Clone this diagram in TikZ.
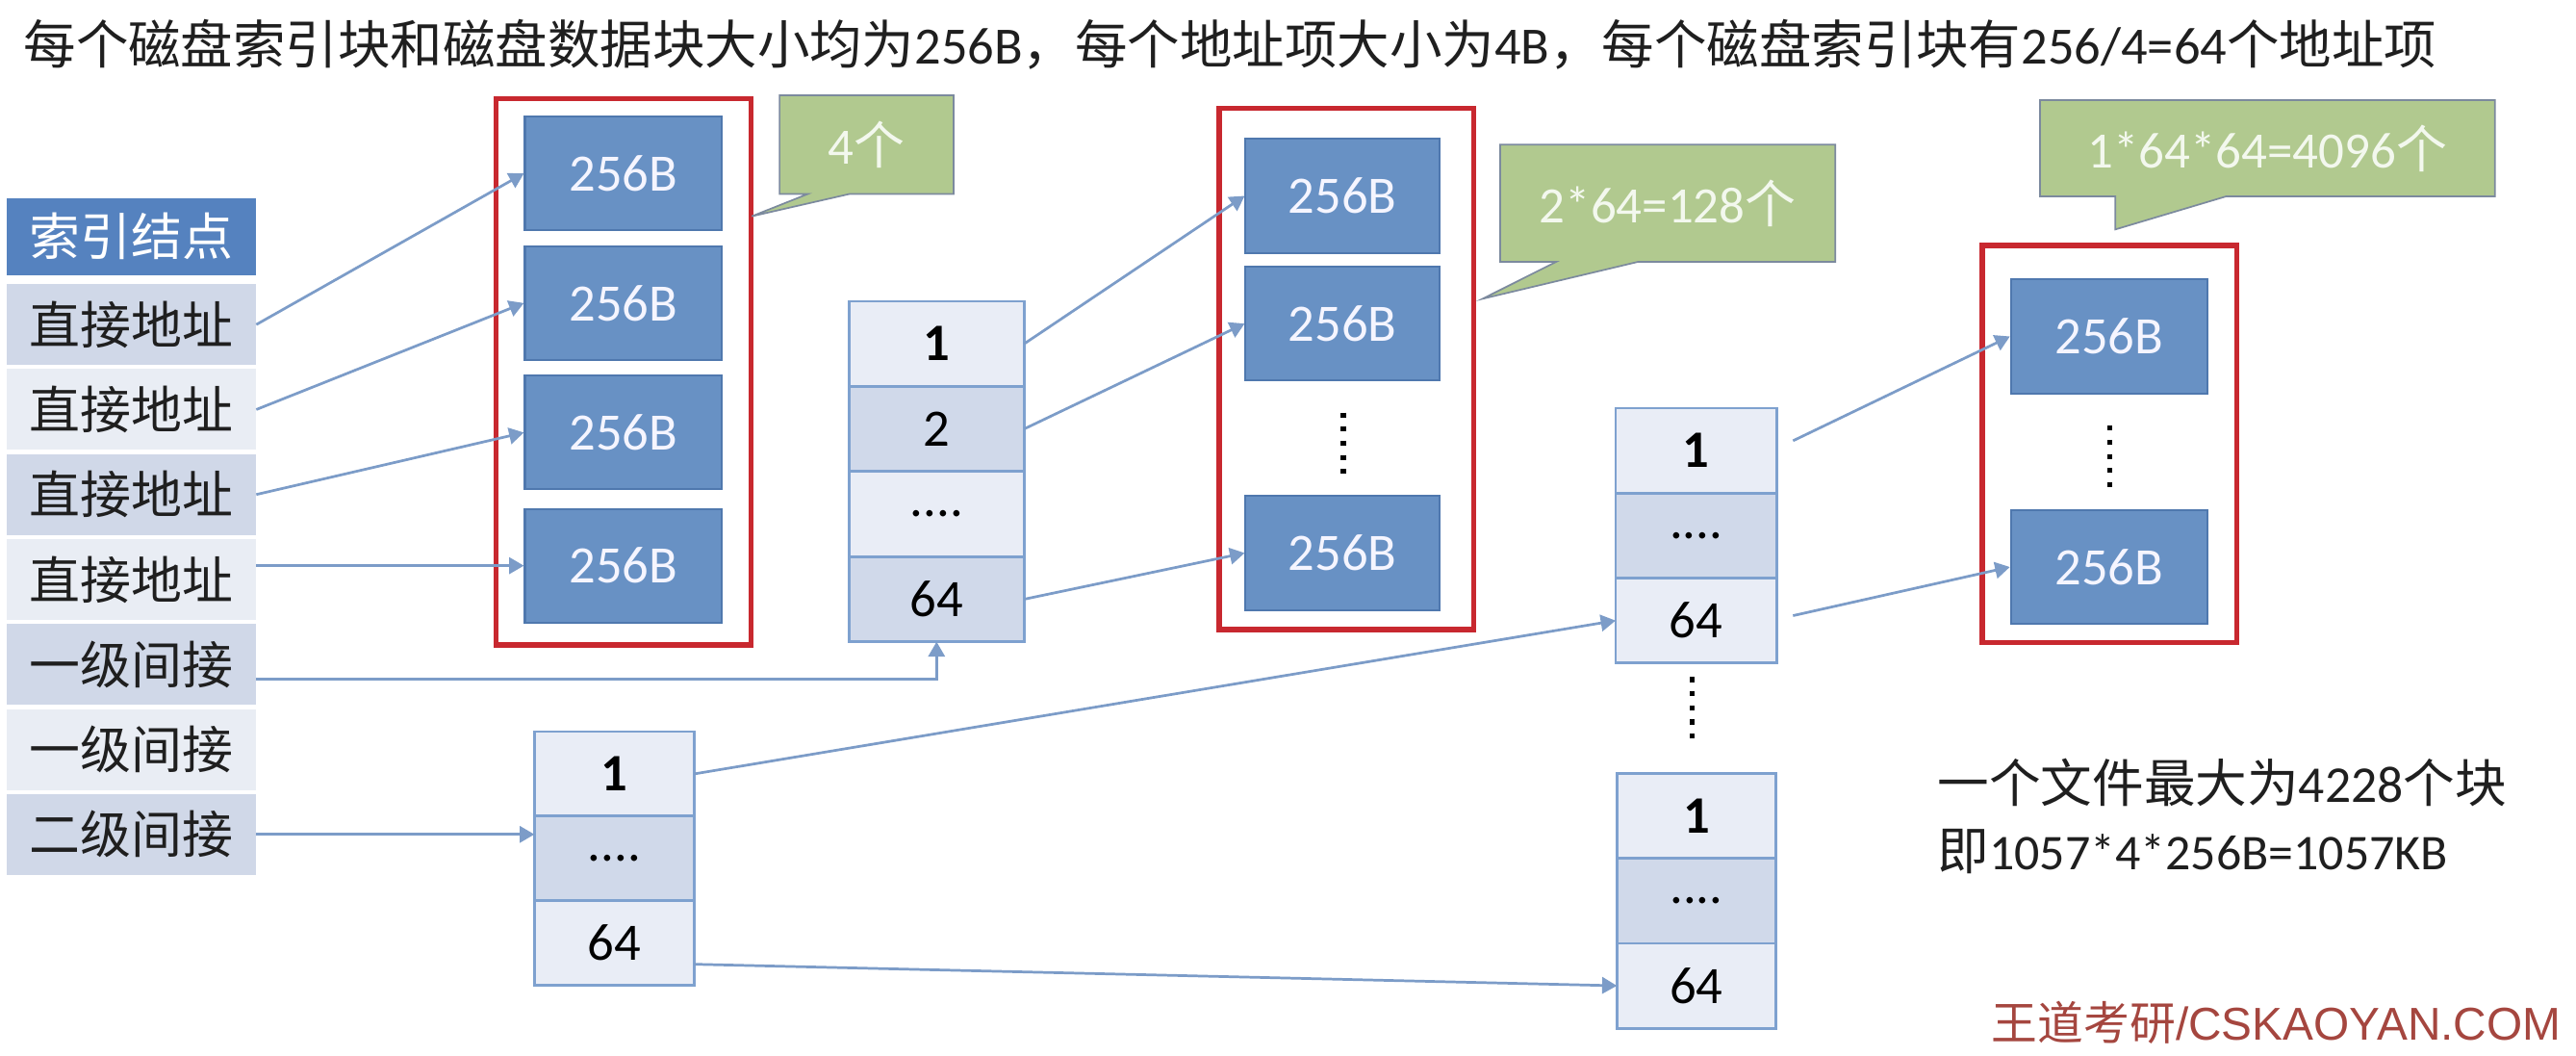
\documentclass[tikz,border=0pt]{standalone}
\usepackage{fontspec}
\setmainfont{Carlito}
\newfontfamily\cjk{Noto Sans CJK SC}
\newfontfamily\arialf{Liberation Sans}
\usetikzlibrary{arrows.meta,calc}
\definecolor{hdr}{HTML}{5582BF}
\definecolor{rowdark}{HTML}{D0D8E8}
\definecolor{rowlight}{HTML}{E9EDF4}
\definecolor{blkfill}{HTML}{6891C4}
\definecolor{blkedge}{HTML}{4F78AE}
\definecolor{redc}{HTML}{C8282F}
\definecolor{celledge}{HTML}{7EA1CF}
\definecolor{celllight}{HTML}{E9EDF6}
\definecolor{celldark}{HTML}{D0D9EA}
\definecolor{connc}{HTML}{7C9CC8}
\definecolor{callfill}{HTML}{B1C98F}
\definecolor{calledge}{HTML}{7C8A9E}
\definecolor{calltext}{HTML}{F3F8EE}
\definecolor{wmc}{HTML}{A5463F}
\begin{document}
\begin{tikzpicture}[x=0.5pt,y=-0.5pt,
  tcell/.style={minimum width=76pt, minimum height=24.6pt, inner sep=0pt, outer sep=0pt,
    font=\cjk\fontsize{15.5}{18}\selectfont, text=black!88},
  tdark/.style={tcell, fill=rowdark},
  tlight/.style={tcell, fill=rowlight},
  thdr/.style={tcell, fill=hdr, text=white, minimum height=23.5pt},
  blk/.style={draw=blkedge, fill=blkfill, line width=0.6pt, inner sep=0pt,
    text=white!96!blue, font=\fontsize{16}{18}\selectfont},
  redbox/.style={draw=redc, line width=1.6pt, inner sep=0pt},
  icell/.style={draw=celledge, line width=0.8pt, inner sep=0pt, outer sep=0pt,
    font=\fontsize{16}{18}\selectfont, text=black},
  ilight/.style={icell, fill=celllight},
  idark/.style={icell, fill=celldark},
  conn/.style={draw=connc, line width=0.8pt, -{Triangle[length=4.5pt,width=5pt]}},
  callout/.style={fill=callfill, draw=calledge, line width=0.5pt},
  calltxt/.style={inner sep=0pt, text=calltext, font=\fontsize{15.5}{18}\selectfont},
  vdots/.style={line width=1.5pt, dash pattern=on 1.5pt off 2.8pt, black}
]
\useasboundingbox[fill=white] (0,0) rectangle (1568,642);

% title
\node[anchor=west, inner sep=0pt, text=black!88, font=\fontsize{15.95}{18}\selectfont] (title) at (14,27)
 {{\cjk 每个磁盘索引块和磁盘数据块大小均为}256B{\cjk ，每个地址项大小为}4B{\cjk ，每个磁盘索引块有}256/4=64{\cjk 个地址项}};

% index node table
\node[thdr] (t0) at (80,144) {索引结点};
\node[tdark]  (t1) at (80,197.5) {直接地址};
\node[tlight] (t2) at (80,249.2) {直接地址};
\node[tdark]  (t3) at (80,300.9) {直接地址};
\node[tlight] (t4) at (80,352.6) {直接地址};
\node[tdark]  (t5) at (80,404.3) {一级间接};
\node[tlight] (t6) at (80,456.0) {一级间接};
\node[tdark]  (t7) at (80,507.7) {二级间接};

% red boxes
\node[redbox, minimum width=77.7pt, minimum height=166.2pt] (R1) at (379.5,226.2) {};
\node[redbox, minimum width=77.5pt, minimum height=158.5pt] (R2) at (819.5,224.5) {};
\node[redbox, minimum width=77.4pt, minimum height=120.8pt] (R3) at (1284.1,270.2) {};

% data blocks
\begin{scope}[every node/.append style={blk, minimum width=60pt, minimum height=34.5pt}]
\node (a1) at (379.5,105.5) {256B};
\node (a2) at (379.5,184.4) {256B};
\node (a3) at (379.5,263.2) {256B};
\node (a4) at (379.5,344.2) {256B};
\end{scope}
\begin{scope}[every node/.append style={blk, minimum width=59pt, minimum height=34.7pt}]
\node (a5) at (817.2,119.2) {256B};
\node (a6) at (817.2,196.9) {256B};
\node (a7) at (817.2,336.5) {256B};
\end{scope}
\begin{scope}[every node/.append style={blk, minimum width=59.8pt, minimum height=34.8pt}]
\node (a8) at (1283.8,204.7) {256B};
\node (a9) at (1283.8,345) {256B};
\end{scope}

% vertical dots
\draw[vdots] (817.7,251) -- (817.7,291);
\draw[vdots] (1284.4,259) -- (1284.4,299);
\draw[vdots] (1030,412) -- (1030,454);

% index block 1
\begin{scope}[every node/.append style={minimum width=53.3pt, minimum height=25.9pt}]
\node[ilight] (b1r1) at (570.1,209.2) {\textbf{1}};
\node[idark]  (b1r2) at (570.1,261.0) {2};
\node[ilight] (b1r3) at (570.1,312.8) {....};
\node[idark]  (b1r4) at (570.1,364.6) {64};
\end{scope}
% index block 2
\begin{scope}[every node/.append style={minimum width=49pt, minimum height=25.85pt}]
\node[ilight] (b2r1) at (1032.4,274.2) {\textbf{1}};
\node[idark]  (b2r2) at (1032.4,325.9) {....};
\node[ilight] (b2r3) at (1032.4,377.6) {64};
\end{scope}
% index block 3
\begin{scope}[every node/.append style={minimum width=48.4pt, minimum height=25.85pt}]
\node[ilight] (b3r1) at (1032.6,496.4) {\textbf{1}};
\node[idark]  (b3r2) at (1032.6,548.1) {....};
\node[ilight] (b3r3) at (1032.6,599.8) {64};
\end{scope}
% index block 4
\begin{scope}[every node/.append style={minimum width=48.6pt, minimum height=25.7pt}]
\node[ilight] (b4r1) at (373.9,470.9) {\textbf{1}};
\node[idark]  (b4r2) at (373.9,522.3) {....};
\node[ilight] (b4r3) at (373.9,573.7) {64};
\end{scope}

% connectors
\draw[conn] (t1.east) -- (a1.west);
\draw[conn] (t2.east) -- (a2.west);
\draw[conn] (t3.east) -- (a3.west);
\draw[conn] (t4.east |- a4.west) -- (a4.west);
\draw[conn] ($(t5.east)+(0,9)$) -| (b1r4.south);
\draw[conn] (t7.east) -- (t7.east -| b4r1.west);
\draw[conn] (b1r1.east) -- (a5.west);
\draw[conn] (b1r2.east) -- (a6.west);
\draw[conn] (b1r4.east) -- (a7.west);
\draw[conn] (b4r1.east) -- (b2r3.west);
\draw[conn] ($(b4r3.east)+(0,13)$) -- (b3r3.west);
\draw[conn] ($(b2r1.east)+(10,-6)$) -- (a8.west);
\draw[conn] ($(b2r3.east)+(10,-3)$) -- (a9.west);

% callouts
\draw[callout] (474.5,58) -- (580.5,58) -- (580.5,118) -- (517.2,118) -- (457.6,131.6) -- (491.8,118) -- (474.5,118) -- cycle;
\node[calltxt] (c1) at (527.5,88) {4{\cjk 个}};
\draw[callout] (913.2,88) -- (1117.1,88) -- (1117.1,159.3) -- (997.1,159.3) -- (902.4,181.8) -- (947.3,159.3) -- (913.2,159.3) -- cycle;
\node[calltxt] (c2) at (1015.2,123.7) {2*64=128{\cjk 个}};
\draw[callout] (1241.7,60.9) -- (1518.6,60.9) -- (1518.6,119.5) -- (1355,119.5) -- (1287.6,139.6) -- (1287.6,119.5) -- (1241.7,119.5) -- cycle;
\node[calltxt] (c3) at (1380.2,90.2) {1*64*64=4096{\cjk 个}};

% summary text
\node[anchor=west, inner sep=0pt, text=black!88, font=\fontsize{15.7}{18}\selectfont] (s1) at (1179,476)
 {{\cjk 一个文件最大为}4228{\cjk 个块}};
\node[anchor=west, inner sep=0pt, text=black!88, font=\fontsize{15.7}{18}\selectfont] (s2) at (1179,518)
 {{\cjk 即}\fontsize{15.2}{18}\selectfont 1057*4*256B=1057KB};

% watermark
\node[anchor=west, inner sep=0pt, text=wmc, font=\arialf\fontsize{14}{16}\selectfont] (wm) at (1212,622)
 {{\cjk 王道考研}/CSKAOYAN.COM};
\end{tikzpicture}
\end{document}
